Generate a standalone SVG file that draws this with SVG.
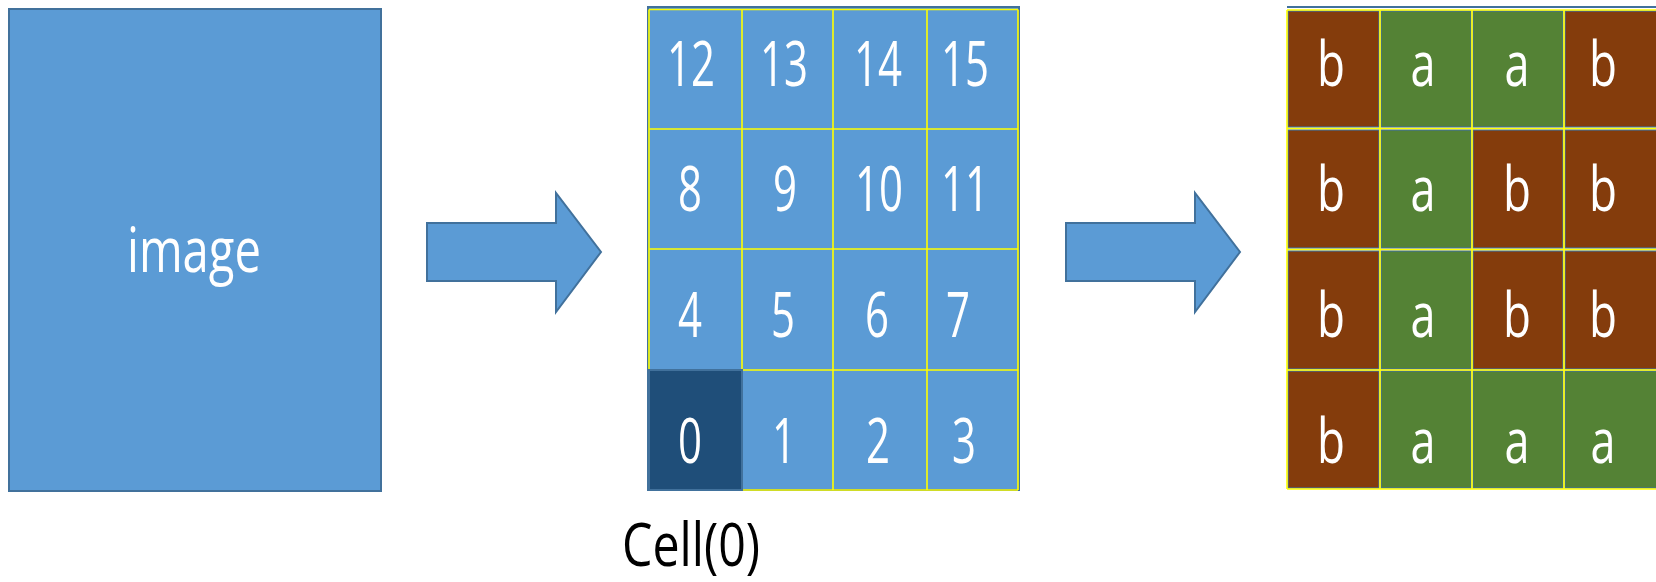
<svg xmlns="http://www.w3.org/2000/svg" width="1656" height="582" viewBox="0 0 1656 582">
<style>
.box{fill:#5b9bd5;stroke:#41719c;stroke-width:2}
.dark{fill:#1f4e79;stroke:#41719c;stroke-width:2}
.br{fill:#843c0c;stroke:#41719c;stroke-width:1.2}
.gr{fill:#548235;stroke:#41719c;stroke-width:1.2}
.yl{stroke:#ffff00;stroke-width:1.6;fill:none}
.t{font-family:"Open Sans","Noto Sans",sans-serif;fill:#ffffff;text-anchor:middle;font-size:62px}
.lbl{font-family:"Open Sans","Noto Sans",sans-serif;fill:#000000;text-anchor:middle;font-size:61px}
.arr{fill:#5b9bd5;stroke:#41719c;stroke-width:2;stroke-linejoin:miter}
</style>
<rect width="1656" height="582" fill="#ffffff"/>

<g id="image-node">
<rect class="box" x="9" y="9" width="372" height="482"/>
<text class="t" x="194" y="272" font-size="60" textLength="134" lengthAdjust="spacingAndGlyphs">image</text>
</g>

<g id="cell-grid">
<rect class="box" x="648" y="7" width="371" height="483" stroke-width="1.5"/>
<path class="yl" d="M649 9.5H1018M649 129H1018M649 249H1018M742 370H1018M742 490H1018M649 9.5V370M742 9.5V490M833 9.5V490M927 9.5V490M1018 9.5V490"/>
<rect class="dark" x="649" y="370" width="93" height="120"/>
<g class="t">
<text x="691" y="86" textLength="48" lengthAdjust="spacingAndGlyphs">12</text>
<text x="784" y="86" textLength="48" lengthAdjust="spacingAndGlyphs">13</text>
<text x="878" y="86" textLength="48" lengthAdjust="spacingAndGlyphs">14</text>
<text x="965" y="86" textLength="48" lengthAdjust="spacingAndGlyphs">15</text>
<text x="690" y="211" textLength="24" lengthAdjust="spacingAndGlyphs">8</text>
<text x="785" y="211" textLength="24" lengthAdjust="spacingAndGlyphs">9</text>
<text x="879" y="211" textLength="48" lengthAdjust="spacingAndGlyphs">10</text>
<text x="965" y="211" textLength="48" lengthAdjust="spacingAndGlyphs">11</text>
<text x="690" y="337" textLength="24" lengthAdjust="spacingAndGlyphs">4</text>
<text x="783" y="337" textLength="24" lengthAdjust="spacingAndGlyphs">5</text>
<text x="877" y="337" textLength="24" lengthAdjust="spacingAndGlyphs">6</text>
<text x="958" y="337" textLength="24" lengthAdjust="spacingAndGlyphs">7</text>
<text x="690" y="463" textLength="24" lengthAdjust="spacingAndGlyphs">0</text>
<text x="784" y="463" textLength="24" lengthAdjust="spacingAndGlyphs">1</text>
<text x="878" y="463" textLength="24" lengthAdjust="spacingAndGlyphs">2</text>
<text x="964" y="463" textLength="24" lengthAdjust="spacingAndGlyphs">3</text>
</g>
<text class="lbl" x="691" y="566" textLength="138" lengthAdjust="spacingAndGlyphs">Cell(0)</text>
</g>

<g id="label-grid">
<line x1="1287" y1="7" x2="1656" y2="7" stroke="#41719c" stroke-width="2"/>
<rect class="br" x="1288" y="11" width="91" height="116"/>
<rect class="gr" x="1381" y="11" width="90" height="116"/>
<rect class="gr" x="1473" y="11" width="90" height="116"/>
<rect class="br" x="1565" y="11" width="92" height="116"/>
<rect class="br" x="1288" y="130" width="91" height="118"/>
<rect class="gr" x="1381" y="130" width="90" height="118"/>
<rect class="br" x="1473" y="130" width="90" height="118"/>
<rect class="br" x="1565" y="130" width="92" height="118"/>
<rect class="br" x="1288" y="251" width="91" height="118"/>
<rect class="gr" x="1381" y="251" width="90" height="118"/>
<rect class="br" x="1473" y="251" width="90" height="118"/>
<rect class="br" x="1565" y="251" width="92" height="118"/>
<rect class="br" x="1288" y="371" width="91" height="117"/>
<rect class="gr" x="1381" y="371" width="90" height="117"/>
<rect class="gr" x="1473" y="371" width="90" height="117"/>
<rect class="gr" x="1565" y="371" width="92" height="117"/>
<path class="yl" d="M1287 10H1656M1287 128.5H1656M1287 249.5H1656M1287 370H1656M1287 489H1656M1287 10V489M1380 10V489M1472 10V489M1564 10V489"/>
<g class="t">
<text x="1331" y="86" textLength="28" lengthAdjust="spacingAndGlyphs">b</text>
<text x="1423" y="86" textLength="25" lengthAdjust="spacingAndGlyphs">a</text>
<text x="1517" y="86" textLength="25" lengthAdjust="spacingAndGlyphs">a</text>
<text x="1603" y="86" textLength="28" lengthAdjust="spacingAndGlyphs">b</text>
<text x="1331" y="211" textLength="28" lengthAdjust="spacingAndGlyphs">b</text>
<text x="1423" y="211" textLength="25" lengthAdjust="spacingAndGlyphs">a</text>
<text x="1517" y="211" textLength="28" lengthAdjust="spacingAndGlyphs">b</text>
<text x="1603" y="211" textLength="28" lengthAdjust="spacingAndGlyphs">b</text>
<text x="1331" y="337" textLength="28" lengthAdjust="spacingAndGlyphs">b</text>
<text x="1423" y="337" textLength="25" lengthAdjust="spacingAndGlyphs">a</text>
<text x="1517" y="337" textLength="28" lengthAdjust="spacingAndGlyphs">b</text>
<text x="1603" y="337" textLength="28" lengthAdjust="spacingAndGlyphs">b</text>
<text x="1331" y="463" textLength="28" lengthAdjust="spacingAndGlyphs">b</text>
<text x="1423" y="463" textLength="25" lengthAdjust="spacingAndGlyphs">a</text>
<text x="1517" y="463" textLength="25" lengthAdjust="spacingAndGlyphs">a</text>
<text x="1603" y="463" textLength="25" lengthAdjust="spacingAndGlyphs">a</text>
</g>
</g>

<g id="connectors">
<path class="arr" d="M427 223H556V193L601 252L556 312V281H427Z"/>
<path class="arr" d="M1066 223H1195V193L1240 252L1195 312V281H1066Z"/>
</g>
</svg>
